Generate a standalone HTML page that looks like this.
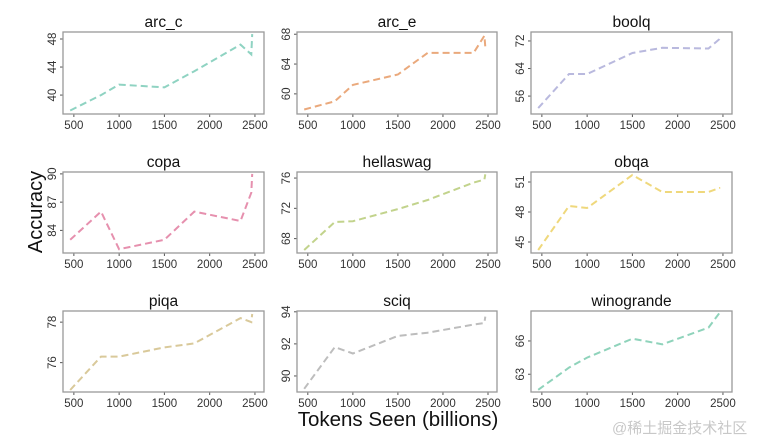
<!DOCTYPE html>
<html><head><meta charset="utf-8"><style>
html,body{margin:0;padding:0;background:#fff;}
svg{display:block;font-family:"Liberation Sans","DejaVu Sans",sans-serif;}
</style></head><body>
<svg id="fig" width="759" height="441" viewBox="0 0 759 441">
<text x="42" y="212" font-size="20" fill="#111" text-anchor="middle" transform="rotate(-90 42 212)">Accuracy</text>
<text x="398" y="426" font-size="20.5" fill="#111" text-anchor="middle">Tokens Seen (billions)</text>
<text x="612" y="433" font-size="15" fill="#c8c8c8" font-family="'Liberation Sans','Noto Sans CJK SC',sans-serif">@稀土掘金技术社区</text>
</svg>
<script>
const tokens = [460, 800, 1000, 1500, 1830, 2340, 2460, 2470];
const arcC = [37.8, 40.0, 41.5, 41.1, 43.4, 47.2, 45.8, 48.7];
const arcE = [57.9, 59.0, 61.2, 62.6, 65.5, 65.5, 67.8, 66.3];
const boolq = [52.5, 62.4, 62.4, 68.5, 70.0, 69.8, 72.5, 72.9];
const copa = [83.0, 86.0, 82.0, 83.0, 86.0, 85.0, 88.0, 90.0];
const hellaswag = [66.5, 70.2, 70.3, 71.9, 73.1, 75.4, 75.8, 76.5];
const obqa = [44.2, 48.6, 48.4, 51.7, 50.0, 50.0, 50.4, 50.4];
const piqa = [74.65, 76.3, 76.3, 76.75, 76.95, 78.2, 78.0, 78.4];
const sciq = [89.2, 91.8, 91.4, 92.5, 92.7, 93.2, 93.3, 93.7];
const winogrande = [61.6, 63.6, 64.5, 66.2, 65.7, 67.2, 68.5, 68.2];
const xTicks = [500, 1000, 1500, 2000, 2500];
const titles = ["arc_c","arc_e","boolq","copa","hellaswag","obqa","piqa","sciq","winogrande"];
const yTicks = [[40,44,48],[60,64,68],[56,64,72],[84,87,90],[68,72,76],[45,48,51],[76,78],[90,92,94],[63,66]];
const yLims = [[37.3,49],[57.3,68.3],[50.8,74.6],[81.6,90.2],[66.1,76.8],[43.9,52],[74.55,78.55],[89,94.05],[61.4,68.7]];
const xLim = [380, 2600];
const series = [arcC, arcE, boolq, copa, hellaswag, obqa, piqa, sciq, winogrande];
const colors = ["#8fd3c2","#eaa97c","#b9b9de","#e690ae","#c2d38c","#efd87c","#d9c99a","#bdbdbd","#8fd3bb"];
const colX = [[63,264],[297,497],[531,732]];
const rowY = [[32,114],[172,253],[311,392]];
const NS = "http://www.w3.org/2000/svg";
const svg = document.getElementById('fig');
function mk(tag, attrs, parent){const e=document.createElementNS(NS,tag);for(const k in attrs)e.setAttribute(k,attrs[k]);(parent||svg).appendChild(e);return e;}
for(let i=0;i<9;i++){
  const [x0,x1]=colX[i%3], [y0,y1]=rowY[Math.floor(i/3)];
  const xs=v=>x0+(v-xLim[0])/(xLim[1]-xLim[0])*(x1-x0);
  const ys=v=>y1-(v-yLims[i][0])/(yLims[i][1]-yLims[i][0])*(y1-y0);
  const g=mk('g',{});
  
  
  const t=mk('text',{x:(x0+x1)/2,y:y0-5,'font-size':15.5,'text-anchor':'middle',fill:'#111'},g);t.textContent=titles[i];
  
  
  xTicks.forEach(v=>{const x=xs(v);mk('line',{x1:x,x2:x,y1:y1,y2:y1+3,stroke:'#555'},g);
    const l=mk('text',{x:x,y:y1+15,'font-size':11.5,'text-anchor':'middle',fill:'#333'},g);l.textContent=v;
    
    });
  yTicks[i].forEach(v=>{const y=ys(v);mk('line',{x1:x0-3,x2:x0,y1:y,y2:y,stroke:'#555'},g);
    const l=mk('text',{x:x0-7,y:y,'font-size':11.5,'text-anchor':'middle',fill:'#333',transform:`rotate(-90 ${x0-7} ${y})`},g);l.textContent=v;
    
    });
  const p=mk('polyline',{points:tokens.map((t,j)=>xs(t).toFixed(1)+','+ys(series[i][j]).toFixed(1)).join(' '),fill:'none',stroke:colors[i],'stroke-width':2,'stroke-dasharray':'7,4'},g);
  
  
  const r=mk('rect',{x:x0,y:y0,width:x1-x0,height:y1-y0,fill:'none',stroke:'#999','stroke-width':1.3},g);
  
  
}
</script>
</body></html>
